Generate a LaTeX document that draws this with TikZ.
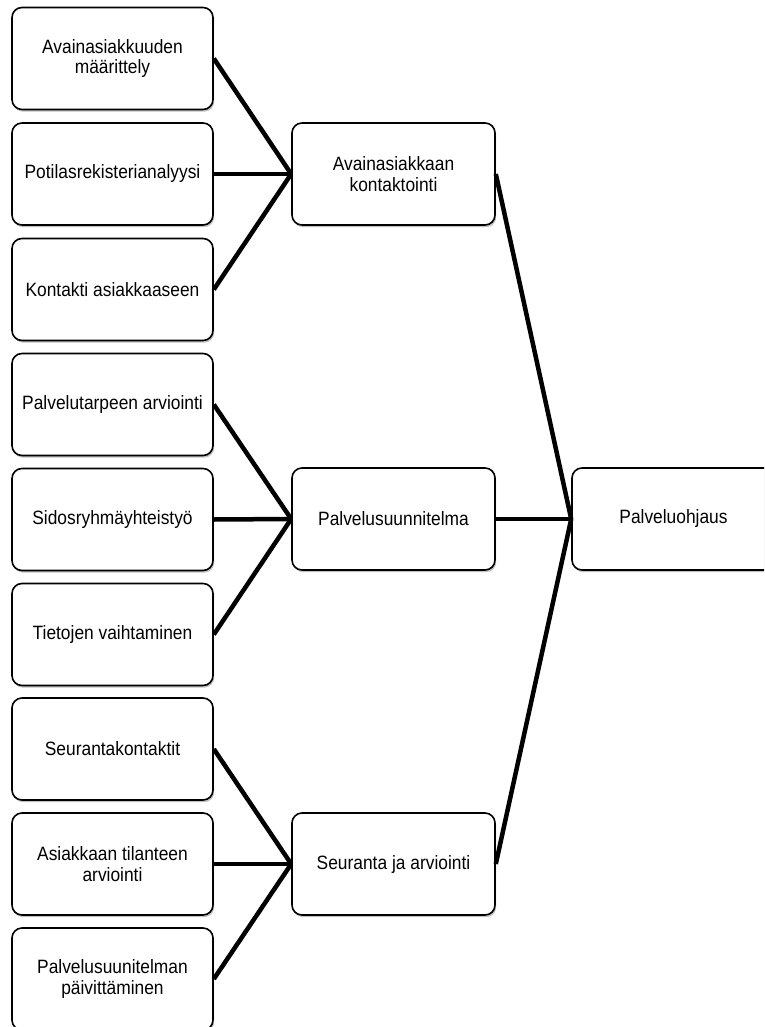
\documentclass[tikz,border=0pt]{standalone}
\usepackage{fontspec}
\setmainfont{Liberation Sans}[FakeStretch=0.9]
\usetikzlibrary{shadows}
\begin{document}
\begin{tikzpicture}[x=1pt,y=-1pt,
  box/.style={draw=black, line width=1.6pt, rounded corners=10pt, fill=white,
    minimum width=201pt, minimum height=102pt, align=center, inner sep=2pt,
    font=\fontsize{19.3}{20.5}\selectfont,
    drop shadow={shadow xshift=1.2pt, shadow yshift=-2.2pt, fill=black!40, opacity=0.6}},
  wbox/.style={box, minimum width=203pt},
  link/.style={line width=4.5pt, draw=black}]
\useasboundingbox (0,0) rectangle (764,1027);
\clip (0,0) rectangle (764,1027);
\fill[white] (0,0) rectangle (764,1027);
% left column
\node[box] (a1) at (112.5,58.5) {Avainasiakkuuden\\määrittely};
\node[box] (a2) at (112.5,174) {Potilasrekisterianalyysi};
\node[box] (a3) at (112.5,289.5) {Kontakti asiakkaaseen};
\node[box] (a4) at (112.5,404.5) {Palvelutarpeen arviointi};
\node[box] (a5) at (112.5,519.5) {Sidosryhmäyhteistyö};
\node[box] (a6) at (112.5,634.5) {Tietojen vaihtaminen};
\node[box] (a7) at (112.5,749) {Seurantakontaktit};
\node[box] (a8) at (112.5,864) {Asiakkaan tilanteen\\arviointi};
\node[box] (a9) at (112.5,979) {Palvelusuunitelman\\päivittäminen};
% middle column
\node[wbox] (b1) at (393.5,174) {Avainasiakkaan\\kontaktointi};
\node[wbox] (b2) at (393.5,519) {Palvelusuunnitelma};
\node[wbox] (b3) at (393.5,864) {Seuranta ja arviointi};
% right
\node[wbox] (c) at (673.5,519) {Palveluohjaus};
% connectors
\foreach \s in {a1,a2,a3} \draw[link] (\s.east) -- (b1.west);
\foreach \s in {a4,a5,a6} \draw[link] (\s.east) -- (b2.west);
\foreach \s in {a7,a8,a9} \draw[link] (\s.east) -- (b3.west);
\foreach \s in {b1,b2,b3} \draw[link] (\s.east) -- (c.west);
\end{tikzpicture}
\end{document}
